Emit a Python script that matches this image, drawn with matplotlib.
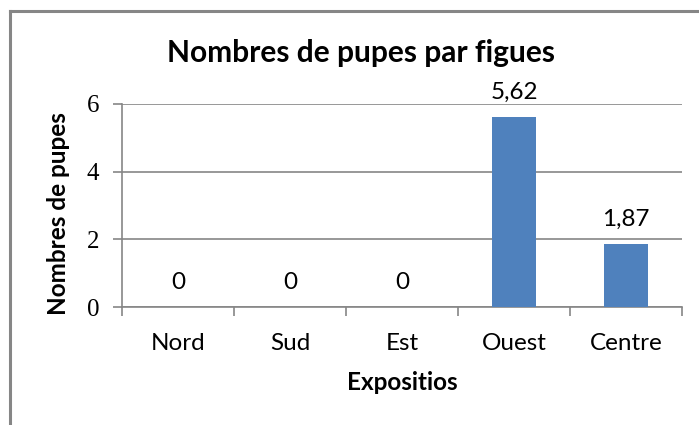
import matplotlib.pyplot as plt
from matplotlib.lines import Line2D

categories = ['Nord', 'Sud', 'Est', 'Ouest', 'Centre']
pupes = [0, 0, 0, 5.62, 1.87]
yticks = [0, 2, 4, 6]

plt.rcParams['font.family'] = ['Lato', 'DejaVu Sans']

fig = plt.figure(figsize=(6.99, 4.25), dpi=100)
ax = fig.add_axes([0.1745, 0.2776, 0.8012, 0.4777])

x = range(len(categories))
ax.bar(x, pupes, width=0.4, color='#4F81BD', zorder=3)

# value labels above each bar, French decimal comma
for xi, v in zip(x, pupes):
    txt = f'{v:.2f}'.replace('.', ',') if v else '0'
    ax.annotate(txt, (xi, v), xytext=(0, 10), textcoords='offset points',
                ha='center', va='bottom', fontsize=17.5, color='black')

ax.set_xlim(-0.5, len(categories) - 0.5)
ax.set_ylim(0, 6)
ax.set_yticks(yticks)
ax.set_yticklabels([str(t) for t in yticks], family='Liberation Serif', fontsize=18)
ax.set_xticks(list(x))
ax.set_xticklabels(categories, fontsize=17.5)
ax.set_xticks([i - 0.5 for i in range(len(categories) + 1)], minor=True)
ax.tick_params(axis='x', which='major', length=0, pad=19)
ax.tick_params(axis='x', which='minor', length=6.5, color='#868686', width=1.2)
ax.tick_params(axis='y', length=6.5, color='#868686', width=1.2, pad=10)

ax.grid(axis='y', color='#868686', linewidth=1.2, zorder=0)
for s in ['top', 'right']:
    ax.spines[s].set_visible(False)
for s in ['left', 'bottom']:
    ax.spines[s].set_color('#868686')
    ax.spines[s].set_linewidth(1.2)

ax.set_title('Nombres de pupes par figues', fontsize=21.5, fontweight='bold',
             pad=30, x=0.427)
ax.set_xlabel('Expositios', fontsize=17.5, fontweight='bold', labelpad=12)
ax.set_ylabel('Nombres de pupes', fontsize=17.5, fontweight='bold', labelpad=9)
ax.yaxis.set_label_coords(-0.093, 0.46)

# chart frame
fig.add_artist(Line2D([10/699, 10/699], [0, 1 - 11/425], color='#868686', lw=2.2))
fig.add_artist(Line2D([10/699, 1], [1 - 11/425, 1 - 11/425], color='#868686', lw=2.2))

fig.savefig('out.png', dpi=100)
